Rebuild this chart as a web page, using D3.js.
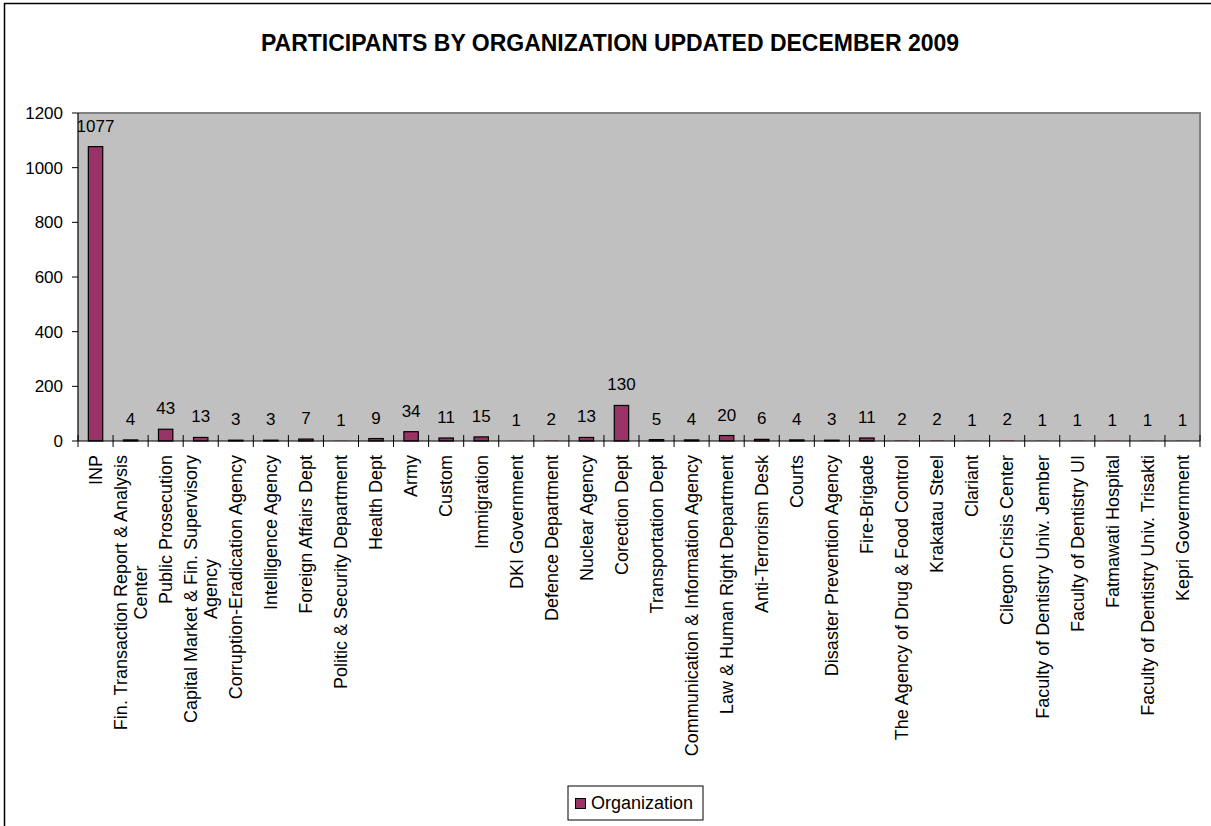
<!DOCTYPE html>
<html>
<head>
<meta charset="utf-8">
<script src="https://cdn.jsdelivr.net/npm/d3@7"></script>
<style>
  body { margin: 0; background: #fff; }
  svg { display: block; font-family: Arial, "Liberation Sans", sans-serif; }
</style>
</head>
<body>
<svg id="chart" width="1211" height="826"></svg>
<script>
// Data
const categories = [
    "INP", "Fin. Transaction Report & Analysis Center", "Public Prosecution",
    "Capital Market & Fin. Supervisory Agency", "Corruption-Eradication Agency",
    "Intelligence Agency", "Foreign Affairs Dept", "Politic & Security Department",
    "Health Dept", "Army", "Custom", "Immigration", "DKI Government",
    "Defence Department", "Nuclear Agency", "Corection Dept", "Transportation Dept",
    "Communication & Information Agency", "Law & Human Right Department",
    "Anti-Terrorism Desk", "Courts", "Disaster Prevention Agency", "Fire-Brigade",
    "The Agency of Drug & Food Control", "Krakatau Steel", "Clariant",
    "Cilegon Crisis Center", "Faculty of Dentistry Univ. Jember", "Faculty of Dentistry UI",
    "Fatmawati Hospital", "Faculty of Dentistry Univ. Trisakti", "Kepri Government"
];
const values = [1077, 4, 43, 13, 3, 3, 7, 1, 9, 34, 11, 15, 1, 2, 13, 130, 5, 4, 20, 6, 4, 3, 11, 2, 2, 1, 2, 1, 1, 1, 1, 1];
const yTicks = [0, 200, 400, 600, 800, 1000, 1200];
const seriesName = "Organization";
const title = "PARTICIPANTS BY ORGANIZATION UPDATED DECEMBER 2009";

const barColor = "#993366";
const plot = {left: 78, right: 1200, top: 113, bottom: 441};
const catFont = 18;

const svg = d3.select("#chart");

// chart border (runs off the right and bottom edge)
svg.append("rect")
    .attr("x", 4.5).attr("y", 3.5)
    .attr("width", 1240).attr("height", 900)
    .attr("fill", "white").attr("stroke", "black").attr("stroke-width", 1.5);

svg.append("text")
    .attr("x", 610).attr("y", 51)
    .attr("text-anchor", "middle")
    .attr("font-size", 23).attr("font-weight", "bold")
    .text(title);

const x = d3.scaleBand()
    .domain(categories)
    .range([plot.left, plot.right]);

const y = d3.scaleLinear()
    .domain([0, 1200])
    .range([plot.bottom, plot.top]);

// plot area
svg.append("rect")
    .attr("x", plot.left).attr("y", plot.top)
    .attr("width", plot.right - plot.left).attr("height", plot.bottom - plot.top)
    .attr("fill", "#C0C0C0");
svg.append("path")
    .attr("d", `M${plot.left},${plot.top}H${plot.right}V${plot.bottom}`)
    .attr("fill", "none").attr("stroke", "#808080").attr("stroke-width", 2);

// bars
const barW = x.bandwidth() * 0.41;
svg.selectAll("rect.bar")
    .data(values)
    .enter()
    .append("rect")
    .attr("class", "bar")
    .attr("x", (d, i) => x(categories[i]) + (x.bandwidth() - barW) / 2)
    .attr("y", d => y(d))
    .attr("width", barW)
    .attr("height", d => y(0) - y(d))
    .attr("fill", barColor)
    .attr("stroke", d => (y(0) - y(d)) < 0.6 ? "none" : "black")
    .attr("stroke-width", 1.2);

// value labels
svg.selectAll("text.val")
    .data(values)
    .enter()
    .append("text")
    .attr("class", "val")
    .attr("x", (d, i) => x(categories[i]) + x.bandwidth() / 2)
    .attr("y", d => y(d) - 15)
    .attr("text-anchor", "middle")
    .attr("font-size", 17)
    .text(d => d);

// y axis
const yAxis = svg.append("g");
yAxis.append("line")
    .attr("x1", plot.left).attr("x2", plot.left)
    .attr("y1", plot.top).attr("y2", plot.bottom)
    .attr("stroke", "black").attr("stroke-width", 1.2);
yTicks.forEach(t => {
    yAxis.append("line")
        .attr("x1", plot.left - 6).attr("x2", plot.left)
        .attr("y1", y(t)).attr("y2", y(t))
        .attr("stroke", "black");
    yAxis.append("text")
        .attr("x", 63).attr("y", y(t))
        .attr("dy", "0.35em")
        .attr("text-anchor", "end")
        .attr("font-size", 17)
        .text(t);
});

// x axis
const xAxis = svg.append("g");
xAxis.append("line")
    .attr("x1", plot.left).attr("x2", plot.right)
    .attr("y1", plot.bottom).attr("y2", plot.bottom)
    .attr("stroke", "black").attr("stroke-width", 1.2);
const bounds = categories.map(c => x(c)).concat([plot.right]);
bounds.forEach(b => {
    xAxis.append("line")
        .attr("x1", b).attr("x2", b)
        .attr("y1", plot.bottom - 6).attr("y2", plot.bottom + 6)
        .attr("stroke", "black");
});

// category labels, rotated, wrapped when too long
const maxLine = 17.7 * catFont;
const measure = svg.append("text").attr("font-size", catFont).attr("visibility", "hidden");
function wrap(label) {
    const words = label.split(" ");
    const lines = [];
    let cur = "";
    words.forEach(w => {
        const test = cur ? cur + " " + w : w;
        measure.text(test);
        if (cur && measure.node().getComputedTextLength() > maxLine) {
            lines.push(cur);
            cur = w;
        } else {
            cur = test;
        }
    });
    lines.push(cur);
    return lines;
}
function width(s) {
    measure.text(s);
    return measure.node().getComputedTextLength();
}

categories.forEach(c => {
    const lines = wrap(c);
    const w = d3.max(lines, width);
    const cx = x(c) + x.bandwidth() / 2;
    const cy = 455 + w / 2;
    const g = svg.append("g")
        .attr("transform", `translate(${cx},${cy}) rotate(-90)`);
    lines.forEach((ln, j) => {
        g.append("text")
            .attr("x", 0)
            .attr("y", (j - (lines.length - 1) / 2) * 20)
            .attr("dy", "0.35em")
            .attr("text-anchor", "middle")
            .attr("font-size", catFont)
            .text(ln);
    });
});
measure.remove();

// legend
const legend = svg.append("g");
legend.append("rect")
    .attr("x", 568).attr("y", 786)
    .attr("width", 135).attr("height", 34)
    .attr("fill", "white").attr("stroke", "black");
legend.append("rect")
    .attr("x", 575.5).attr("y", 798.5)
    .attr("width", 10).attr("height", 10)
    .attr("fill", barColor).attr("stroke", "black");
legend.append("text")
    .attr("x", 591).attr("y", 809)
    .attr("font-size", 18)
    .text(seriesName);
</script>
</body>
</html>
